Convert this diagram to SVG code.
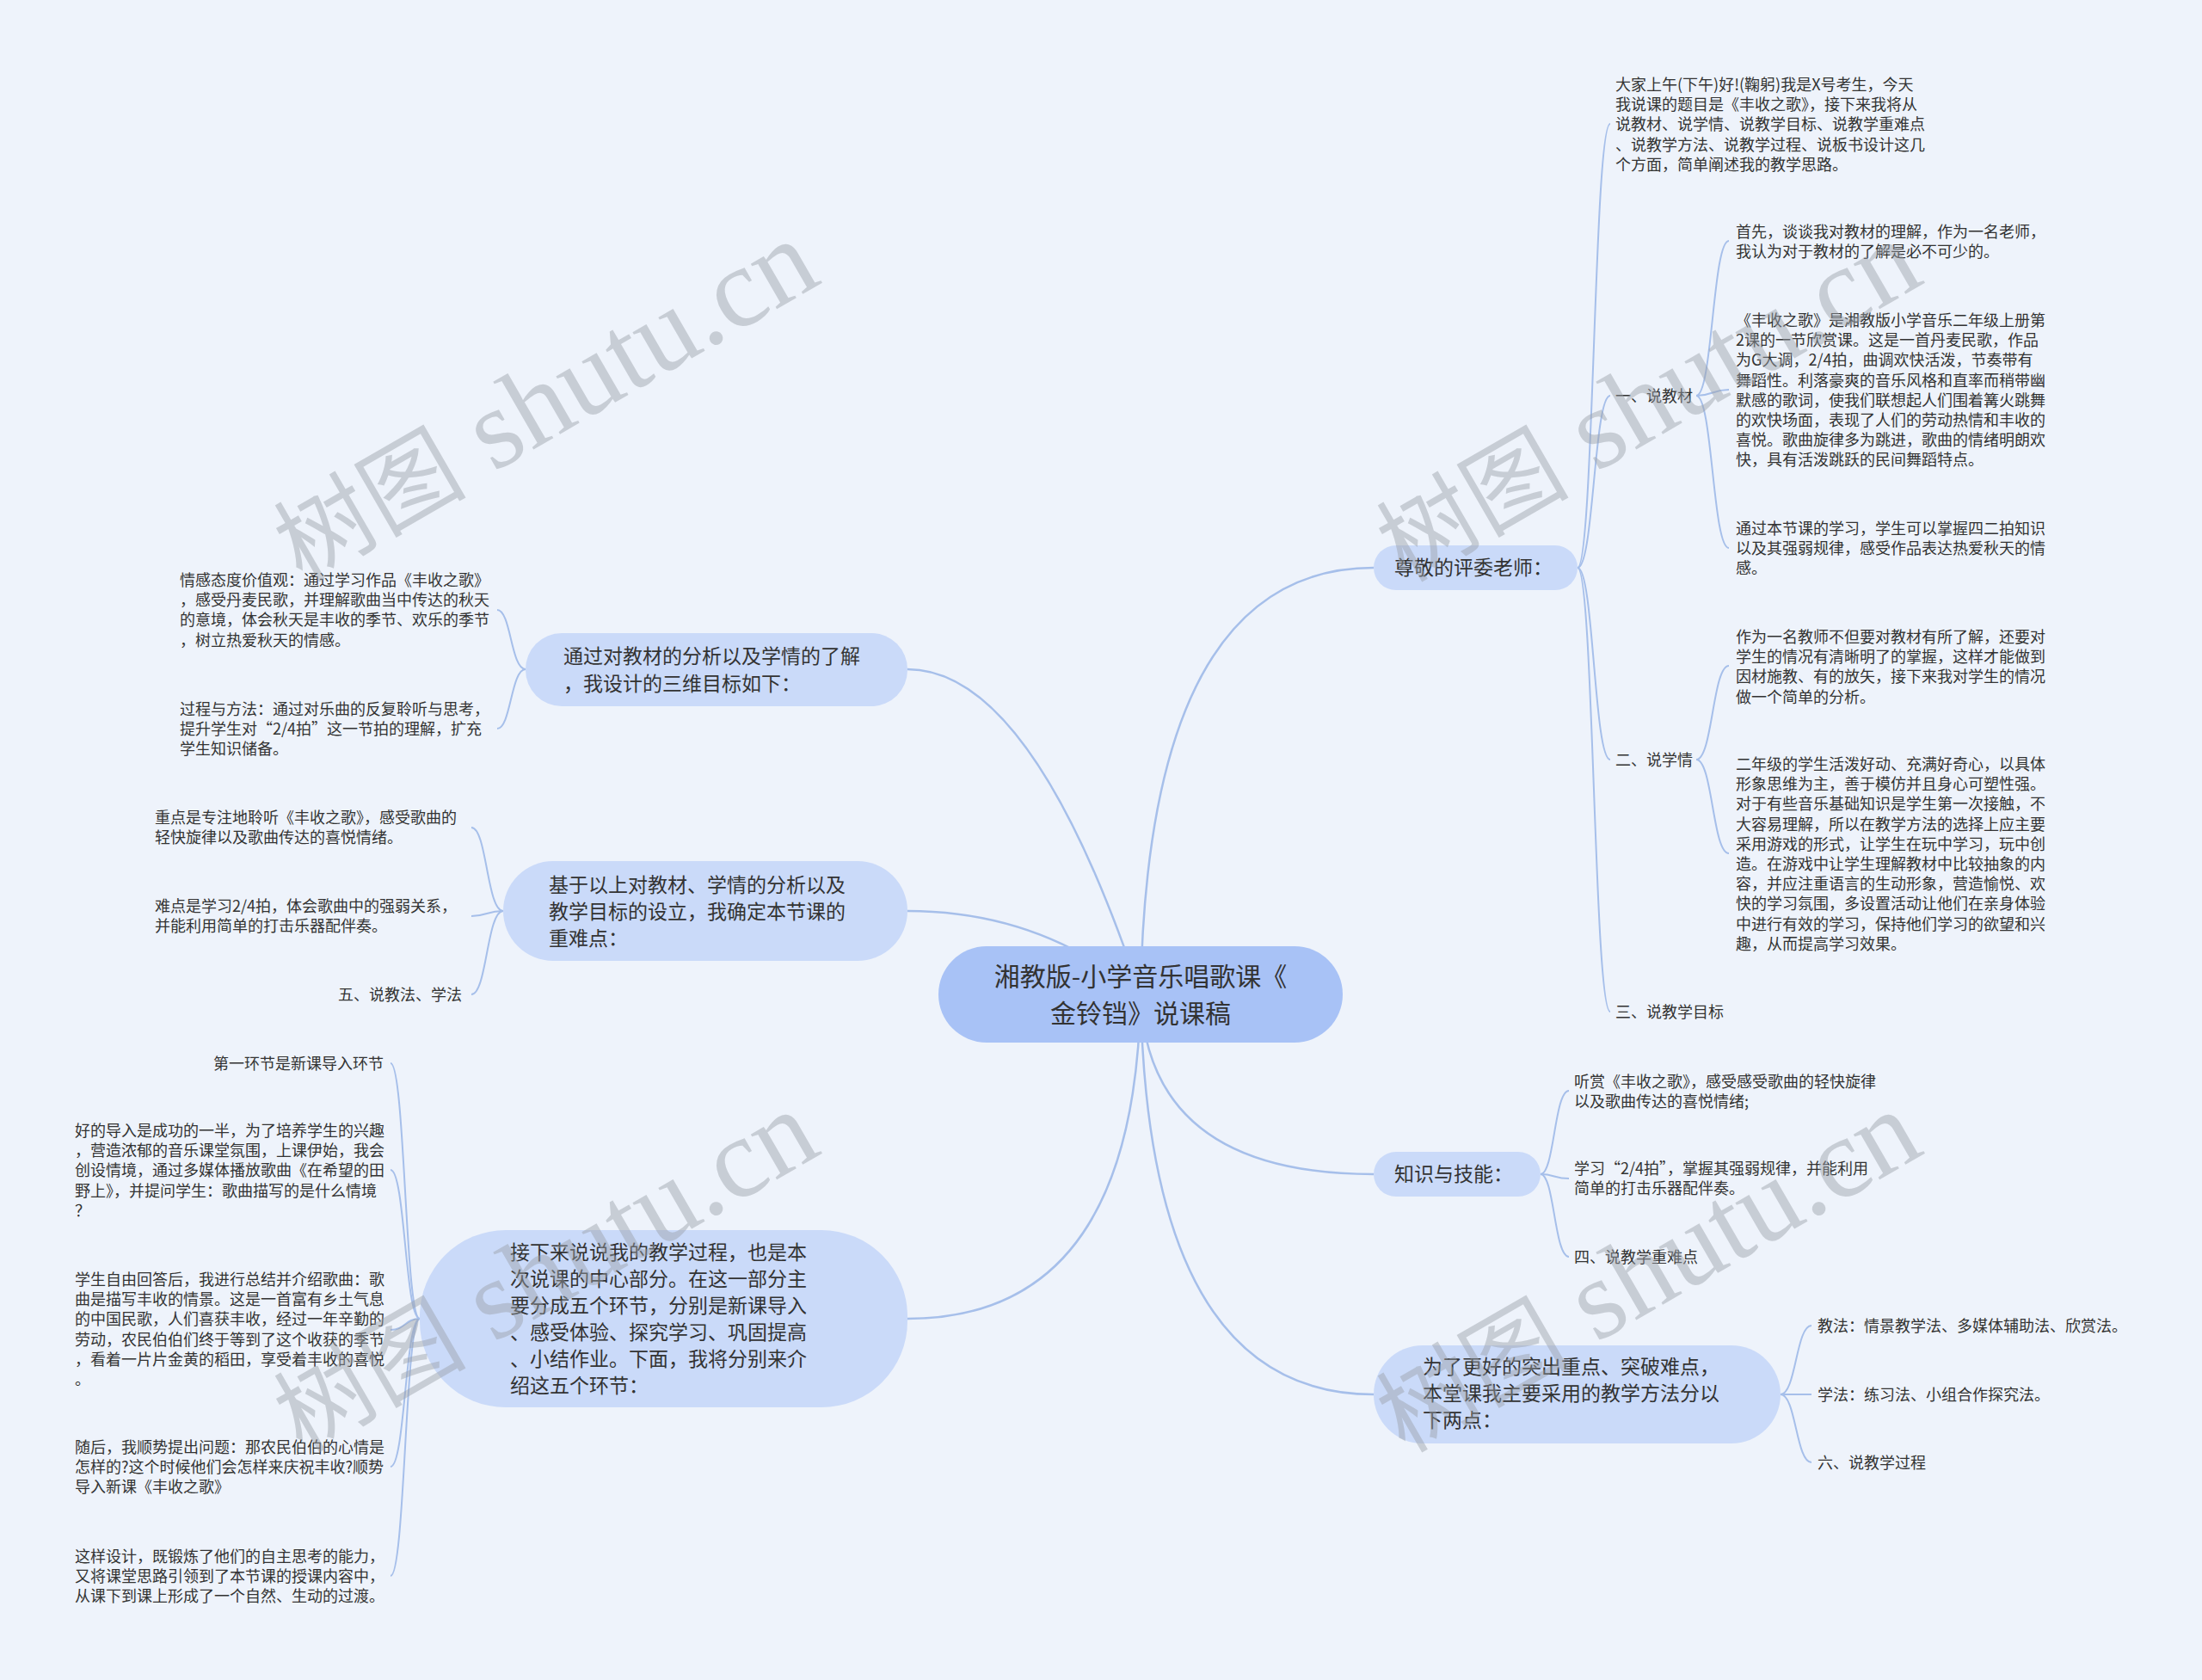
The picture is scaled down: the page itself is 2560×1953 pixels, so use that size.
<svg xmlns="http://www.w3.org/2000/svg" width="2560" height="1953" viewBox="0 0 2560 1953">
<style>
.t{font-family:"Noto Sans CJK SC","Noto Sans",sans-serif;fill:#333}
.s{font-size:18px}
.m{font-size:23px}
.r{font-size:30px}
.ln{fill:none;stroke:#a6bfea;stroke-width:2}
.lr{fill:none;stroke:#a6bfea;stroke-width:2.5}
.root{fill:#a8c2f6}
.l1{fill:#cadaf9}
.wm{font-family:"Liberation Serif","Noto Sans CJK SC",serif;font-size:112px;fill:#9aa0a8;opacity:0.45}
.wl{font-size:132px}
</style>
<rect width="2560" height="1953" fill="#eef3fb"/>
<g id="connectors">
<path class="lr" d="M1326,1156 Q1334,660 1597,660"/>
<path class="lr" d="M1326,1156 Q1334,1365 1597,1365"/>
<path class="lr" d="M1326,1156 Q1334,1621 1597,1621"/>
<path class="lr" d="M1326,1156 Q1200,778 1055,778"/>
<path class="lr" d="M1326,1156 Q1210,1059 1055,1059"/>
<path class="lr" d="M1326,1156 Q1320,1533 1055,1533"/>
<path class="ln" d="M1834,660 C1853,660 1853,144 1872,144"/>
<path class="ln" d="M1834,660 C1853,660 1853,460 1872,460"/>
<path class="ln" d="M1834,660 C1853,660 1853,883 1872,883"/>
<path class="ln" d="M1834,660 C1853,660 1853,1176 1872,1176"/>
<path class="ln" d="M1972,460 C1991,460 1991,280 2010,280"/>
<path class="ln" d="M1972,460 C1991,460 1991,453 2010,453"/>
<path class="ln" d="M1972,460 C1991,460 1991,637 2010,637"/>
<path class="ln" d="M1972,883 C1991,883 1991,774 2010,774"/>
<path class="ln" d="M1972,883 C1991,883 1991,992 2010,992"/>
<path class="ln" d="M1791,1365 C1807,1365 1807,1268 1824,1268"/>
<path class="ln" d="M1791,1365 C1807,1365 1807,1370 1824,1370"/>
<path class="ln" d="M1791,1365 C1807,1365 1807,1461 1824,1461"/>
<path class="ln" d="M2070,1621 C2088,1621 2088,1541 2106,1541"/>
<path class="ln" d="M2070,1621 C2088,1621 2088,1621 2106,1621"/>
<path class="ln" d="M2070,1621 C2088,1621 2088,1700 2106,1700"/>
<path class="ln" d="M611,778 C594,778 594,709 578,709"/>
<path class="ln" d="M611,778 C594,778 594,847 578,847"/>
<path class="ln" d="M585,1059 C566,1059 566,962 548,962"/>
<path class="ln" d="M585,1059 C566,1059 566,1065 548,1065"/>
<path class="ln" d="M585,1059 C566,1059 566,1156 548,1156"/>
<path class="ln" d="M488,1533 C471,1533 471,1236 454,1236"/>
<path class="ln" d="M488,1533 C471,1533 471,1360 454,1360"/>
<path class="ln" d="M488,1533 C471,1533 471,1546 454,1546"/>
<path class="ln" d="M488,1533 C471,1533 471,1705 454,1705"/>
<path class="ln" d="M488,1533 C471,1533 471,1832 454,1832"/>
</g>
<g id="root">
<rect class="root" x="1091" y="1100" width="470" height="112" rx="56"/>
<text class="t r" text-anchor="middle"><tspan x="1326" y="1146">湘教版-小学音乐唱歌课《</tspan><tspan x="1326" y="1189">金铃铛》说课稿</tspan></text>
</g>
<g id="n-judges">
<rect class="l1" x="1597" y="634" width="237" height="52" rx="26"/>
<text class="t m" x="1621" y="668">尊敬的评委老师：</text>
</g>
<g id="n-intro">
<text class="t s"><tspan x="1878" y="105">大家上午(下午)好!(鞠躬)我是X号考生，今天</tspan><tspan x="1878" dy="23.2">我说课的题目是《丰收之歌》，接下来我将从</tspan><tspan x="1878" dy="23.2">说教材、说学情、说教学目标、说教学重难点</tspan><tspan x="1878" dy="23.2">、说教学方法、说教学过程、说板书设计这几</tspan><tspan x="1878" dy="23.2">个方面，简单阐述我的教学思路。</tspan></text>
</g>
<g id="n-material">
<text class="t s" x="1878" y="467">一、说教材</text>
</g>
<g id="n-material-1">
<text class="t s"><tspan x="2018" y="276">首先，谈谈我对教材的理解，作为一名老师，</tspan><tspan x="2018" dy="23.2">我认为对于教材的了解是必不可少的。</tspan></text>
</g>
<g id="n-material-2">
<text class="t s"><tspan x="2018" y="379">《丰收之歌》是湘教版小学音乐二年级上册第</tspan><tspan x="2018" dy="23.2">2课的一节欣赏课。这是一首丹麦民歌，作品</tspan><tspan x="2018" dy="23.2">为G大调，2/4拍，曲调欢快活泼，节奏带有</tspan><tspan x="2018" dy="23.2">舞蹈性。利落豪爽的音乐风格和直率而稍带幽</tspan><tspan x="2018" dy="23.2">默感的歌词，使我们联想起人们围着篝火跳舞</tspan><tspan x="2018" dy="23.2">的欢快场面，表现了人们的劳动热情和丰收的</tspan><tspan x="2018" dy="23.2">喜悦。歌曲旋律多为跳进，歌曲的情绪明朗欢</tspan><tspan x="2018" dy="23.2">快，具有活泼跳跃的民间舞蹈特点。</tspan></text>
</g>
<g id="n-material-3">
<text class="t s"><tspan x="2018" y="621">通过本节课的学习，学生可以掌握四二拍知识</tspan><tspan x="2018" dy="23.2">以及其强弱规律，感受作品表达热爱秋天的情</tspan><tspan x="2018" dy="23.2">感。</tspan></text>
</g>
<g id="n-students">
<text class="t s" x="1878" y="890">二、说学情</text>
</g>
<g id="n-students-1">
<text class="t s"><tspan x="2018" y="747">作为一名教师不但要对教材有所了解，还要对</tspan><tspan x="2018" dy="23.2">学生的情况有清晰明了的掌握，这样才能做到</tspan><tspan x="2018" dy="23.2">因材施教、有的放矢，接下来我对学生的情况</tspan><tspan x="2018" dy="23.2">做一个简单的分析。</tspan></text>
</g>
<g id="n-students-2">
<text class="t s"><tspan x="2018" y="895">二年级的学生活泼好动、充满好奇心，以具体</tspan><tspan x="2018" dy="23.2">形象思维为主，善于模仿并且身心可塑性强。</tspan><tspan x="2018" dy="23.2">对于有些音乐基础知识是学生第一次接触，不</tspan><tspan x="2018" dy="23.2">大容易理解，所以在教学方法的选择上应主要</tspan><tspan x="2018" dy="23.2">采用游戏的形式，让学生在玩中学习，玩中创</tspan><tspan x="2018" dy="23.2">造。在游戏中让学生理解教材中比较抽象的内</tspan><tspan x="2018" dy="23.2">容，并应注重语言的生动形象，营造愉悦、欢</tspan><tspan x="2018" dy="23.2">快的学习氛围，多设置活动让他们在亲身体验</tspan><tspan x="2018" dy="23.2">中进行有效的学习，保持他们学习的欲望和兴</tspan><tspan x="2018" dy="23.2">趣，从而提高学习效果。</tspan></text>
</g>
<g id="n-goals-title">
<text class="t s" x="1878" y="1183">三、说教学目标</text>
</g>
<g id="n-knowledge">
<rect class="l1" x="1597" y="1339" width="194" height="52" rx="26"/>
<text class="t m" x="1621" y="1373">知识与技能：</text>
</g>
<g id="n-knowledge-1">
<text class="t s"><tspan x="1830" y="1264">听赏《丰收之歌》，感受感受歌曲的轻快旋律</tspan><tspan x="1830" dy="23.2">以及歌曲传达的喜悦情绪;</tspan></text>
</g>
<g id="n-knowledge-2">
<text class="t s"><tspan x="1830" y="1365">学习“2/4拍”，掌握其强弱规律，并能利用</tspan><tspan x="1830" dy="23.2">简单的打击乐器配伴奏。</tspan></text>
</g>
<g id="n-keypoints-title">
<text class="t s" x="1830" y="1468">四、说教学重难点</text>
</g>
<g id="n-methods">
<rect class="l1" x="1597" y="1564" width="473" height="114" rx="57"/>
<text class="t m"><tspan x="1654" y="1597">为了更好的突出重点、突破难点，</tspan><tspan x="1654" dy="31">本堂课我主要采用的教学方法分以</tspan><tspan x="1654" dy="31">下两点：</tspan></text>
</g>
<g id="n-methods-1">
<text class="t s" x="2113" y="1548">教法：情景教学法、多媒体辅助法、欣赏法。</text>
</g>
<g id="n-methods-2">
<text class="t s" x="2113" y="1628">学法：练习法、小组合作探究法。</text>
</g>
<g id="n-process-title">
<text class="t s" x="2113" y="1707">六、说教学过程</text>
</g>
<g id="n-3d">
<rect class="l1" x="611" y="736" width="444" height="85" rx="42"/>
<text class="t m"><tspan x="655" y="771">通过对教材的分析以及学情的了解</tspan><tspan x="655" dy="32">，我设计的三维目标如下：</tspan></text>
</g>
<g id="n-3d-1">
<text class="t s"><tspan x="209" y="681">情感态度价值观：通过学习作品《丰收之歌》</tspan><tspan x="209" dy="23.2">，感受丹麦民歌，并理解歌曲当中传达的秋天</tspan><tspan x="209" dy="23.2">的意境，体会秋天是丰收的季节、欢乐的季节</tspan><tspan x="209" dy="23.2">，树立热爱秋天的情感。</tspan></text>
</g>
<g id="n-3d-2">
<text class="t s"><tspan x="209" y="831">过程与方法：通过对乐曲的反复聆听与思考，</tspan><tspan x="209" dy="23.2">提升学生对“2/4拍”这一节拍的理解，扩充</tspan><tspan x="209" dy="23.2">学生知识储备。</tspan></text>
</g>
<g id="n-key">
<rect class="l1" x="585" y="1001" width="470" height="116" rx="58"/>
<text class="t m"><tspan x="638" y="1037">基于以上对教材、学情的分析以及</tspan><tspan x="638" dy="31">教学目标的设立，我确定本节课的</tspan><tspan x="638" dy="31">重难点：</tspan></text>
</g>
<g id="n-key-1">
<text class="t s"><tspan x="180" y="957">重点是专注地聆听《丰收之歌》，感受歌曲的</tspan><tspan x="180" dy="23.2">轻快旋律以及歌曲传达的喜悦情绪。</tspan></text>
</g>
<g id="n-key-2">
<text class="t s"><tspan x="180" y="1060">难点是学习2/4拍，体会歌曲中的强弱关系，</tspan><tspan x="180" dy="23.2">并能利用简单的打击乐器配伴奏。</tspan></text>
</g>
<g id="n-methods-title">
<text class="t s" x="537" y="1163" text-anchor="end">五、说教法、学法</text>
</g>
<g id="n-process">
<rect class="l1" x="488" y="1430" width="567" height="206" rx="100"/>
<text class="t m"><tspan x="593" y="1464">接下来说说我的教学过程，也是本</tspan><tspan x="593" dy="31">次说课的中心部分。在这一部分主</tspan><tspan x="593" dy="31">要分成五个环节，分别是新课导入</tspan><tspan x="593" dy="31">、感受体验、探究学习、巩固提高</tspan><tspan x="593" dy="31">、小结作业。下面，我将分别来介</tspan><tspan x="593" dy="31">绍这五个环节：</tspan></text>
</g>
<g id="n-process-1">
<text class="t s" x="446" y="1243" text-anchor="end">第一环节是新课导入环节</text>
</g>
<g id="n-process-2">
<text class="t s"><tspan x="87" y="1321">好的导入是成功的一半，为了培养学生的兴趣</tspan><tspan x="87" dy="23.2">，营造浓郁的音乐课堂氛围，上课伊始，我会</tspan><tspan x="87" dy="23.2">创设情境，通过多媒体播放歌曲《在希望的田</tspan><tspan x="87" dy="23.2">野上》，并提问学生：歌曲描写的是什么情境</tspan><tspan x="87" dy="23.2">？</tspan></text>
</g>
<g id="n-process-3">
<text class="t s"><tspan x="87" y="1494">学生自由回答后，我进行总结并介绍歌曲：歌</tspan><tspan x="87" dy="23.2">曲是描写丰收的情景。这是一首富有乡土气息</tspan><tspan x="87" dy="23.2">的中国民歌，人们喜获丰收，经过一年辛勤的</tspan><tspan x="87" dy="23.2">劳动，农民伯伯们终于等到了这个收获的季节</tspan><tspan x="87" dy="23.2">，看着一片片金黄的稻田，享受着丰收的喜悦</tspan><tspan x="87" dy="23.2">。</tspan></text>
</g>
<g id="n-process-4">
<text class="t s"><tspan x="87" y="1689">随后，我顺势提出问题：那农民伯伯的心情是</tspan><tspan x="87" dy="23.2">怎样的?这个时候他们会怎样来庆祝丰收?顺势</tspan><tspan x="87" dy="23.2">导入新课《丰收之歌》</tspan></text>
</g>
<g id="n-process-5">
<text class="t s"><tspan x="87" y="1816">这样设计，既锻炼了他们的自主思考的能力，</tspan><tspan x="87" dy="23.2">又将课堂思路引领到了本节课的授课内容中，</tspan><tspan x="87" dy="23.2">从课下到课上形成了一个自然、生动的过渡。</tspan></text>
</g>
<g id="watermarks">
<text class="wm" transform="translate(351,678) rotate(-30)">树图<tspan class="wl"> shutu.cn</tspan></text>
<text class="wm" transform="translate(1633,678) rotate(-30)">树图<tspan class="wl"> shutu.cn</tspan></text>
<text class="wm" transform="translate(351,1690) rotate(-30)">树图<tspan class="wl"> shutu.cn</tspan></text>
<text class="wm" transform="translate(1633,1690) rotate(-30)">树图<tspan class="wl"> shutu.cn</tspan></text>
</g>
</svg>
